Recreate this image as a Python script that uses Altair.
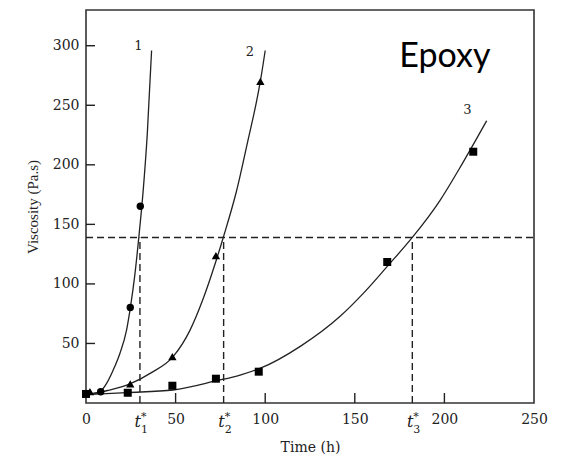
import altair as alt
import pandas as pd

# ---- data ----
# curve 1 (circles)
c1_curve_x = [0, 4, 7.8, 11.5, 15.2, 19, 22.6, 24.8, 27.2, 29.5, 32, 34.2, 36.6]
c1_curve_y = [7, 7.8, 9.5, 16.5, 27.7, 42, 61, 80.5, 107, 139.5, 180, 226, 296]
c1_pts_x = [8.2, 24.7, 30.3]
c1_pts_y = [9.5, 80.2, 165.2]

# curve 2 (triangles)
c2_curve_x = [0, 12, 24.5, 36.5, 48.6, 58.0, 65, 72.5, 76.6, 84, 90.6, 95, 97.5, 100]
c2_curve_y = [7, 10.5, 16, 25.5, 38.9, 61, 86, 119, 139, 178, 222, 252, 272, 296]
c2_pts_x = [2.2, 24.7, 48.2, 72.5, 97.3]
c2_pts_y = [9.5, 16.0, 39.0, 123.8, 270]

# curve 3 (squares)
c3_curve_x = [0, 22.7, 48.6, 72.9, 86, 97, 120, 141.5, 155, 168, 182.1, 197.5, 210, 223.6]
c3_curve_y = [7, 8.7, 10.9, 18.7, 23.5, 29, 48, 72.4, 92.5, 114.5, 139, 170, 201, 237]
c3_pts_x = [0, 23.3, 48.2, 72.5, 96.4, 168.1, 216.1]
c3_pts_y = [7.6, 8.6, 14.5, 20.4, 26.3, 118.4, 211]

# critical viscosity and times
crit_visc = 139
t_star = [30.1, 76.8, 182.1]
t_sub = ["1", "2", "3"]

curve_labels = ["1", "2", "3"]
curve_label_x = [29.3, 91.5, 212.8]
curve_label_y = [299.7, 295, 246]

x_ticks = [0, 50, 100, 150, 200, 250]
x_inner_ticks = [50, 100, 150, 200]
y_ticks = [50, 100, 150, 200, 250, 300]

W, H = 448, 393
INK = "#222222"

# ---- tables ----
curves = pd.concat([
    pd.DataFrame({"x": c1_curve_x, "y": c1_curve_y, "c": "1"}),
    pd.DataFrame({"x": c2_curve_x, "y": c2_curve_y, "c": "2"}),
    pd.DataFrame({"x": c3_curve_x, "y": c3_curve_y, "c": "3"}),
])
pts1 = pd.DataFrame({"x": c1_pts_x, "y": c1_pts_y})
pts2 = pd.DataFrame({"x": c2_pts_x, "y": c2_pts_y})
pts3 = pd.DataFrame({"x": c3_pts_x, "y": c3_pts_y})
tdf = pd.DataFrame({"t": t_star, "sub": t_sub, "y0": 0, "y1": crit_visc})
hdf = pd.DataFrame({"x0": [0], "x1": [250], "y": [crit_visc]})
lab = pd.DataFrame({"x": curve_label_x, "y": curve_label_y, "s": curve_labels})
xt = pd.DataFrame({"v": x_inner_ticks})
yt = pd.DataFrame({"v": y_ticks})

xs = alt.Scale(domain=[0, 250], nice=False, zero=False)
ys = alt.Scale(domain=[0, 330], nice=False, zero=False)

xaxis = alt.Axis(values=x_ticks, title="Time (h)", ticks=False, domain=False,
                 grid=False, labelFont="DejaVu Serif", labelFontSize=14,
                 labelColor=INK, labelPadding=9, titleFont="DejaVu Serif",
                 titleFontSize=14, titleFontWeight="normal", titleColor=INK,
                 titlePadding=14, labelFlush=False)
yaxis = alt.Axis(values=y_ticks, title="Viscosity (Pa.s)", ticks=False,
                 domain=False, grid=False, labelFont="DejaVu Serif",
                 labelFontSize=14, labelColor=INK, labelPadding=7,
                 titleFont="Liberation Serif", titleFontSize=15,
                 titleFontWeight="normal", titleColor=INK, titlePadding=12)

lines = alt.Chart(curves).mark_line(interpolate="monotone", color=INK,
                                    strokeWidth=1.3, clip=True).encode(
    x=alt.X("x:Q", scale=xs, axis=xaxis),
    y=alt.Y("y:Q", scale=ys, axis=yaxis),
    detail="c:N",
)

m1 = alt.Chart(pts1).mark_point(shape="circle", filled=True, color="black",
                                size=55, opacity=1).encode(
    x=alt.X("x:Q", scale=xs), y=alt.Y("y:Q", scale=ys))
m2 = alt.Chart(pts2).mark_point(shape="triangle-up", filled=True, color="black",
                                size=70, opacity=1).encode(
    x=alt.X("x:Q", scale=xs), y=alt.Y("y:Q", scale=ys))
m3 = alt.Chart(pts3).mark_point(shape="square", filled=True, color="black",
                                size=64, opacity=1).encode(
    x=alt.X("x:Q", scale=xs), y=alt.Y("y:Q", scale=ys))

hdash = alt.Chart(hdf).mark_rule(color=INK, strokeWidth=1.4,
                                 strokeDash=[7, 4]).encode(
    x=alt.X("x0:Q", scale=xs), x2="x1:Q", y=alt.Y("y:Q", scale=ys))
vdash = alt.Chart(tdf).mark_rule(color=INK, strokeWidth=1.4,
                                 strokeDash=[7, 4]).encode(
    x=alt.X("t:Q", scale=xs), y=alt.Y("y0:Q", scale=ys), y2="y1:Q")

xtick = alt.Chart(xt).mark_rule(color=INK, strokeWidth=1.4).encode(
    x=alt.X("v:Q", scale=xs), y=alt.value(H), y2=alt.value(H - 10))
ytick = alt.Chart(yt).mark_rule(color=INK, strokeWidth=1.4).encode(
    y=alt.Y("v:Q", scale=ys), x=alt.value(0), x2=alt.value(9))

t_main = alt.Chart(tdf).mark_text(text="t", font="DejaVu Serif", fontSize=16,
                                  fontStyle="italic", align="right",
                                  baseline="alphabetic", dx=1, color=INK).encode(
    x=alt.X("t:Q", scale=xs), y=alt.value(H + 24))
t_subm = alt.Chart(tdf).mark_text(font="DejaVu Serif", fontSize=11,
                                  align="left", baseline="alphabetic", dx=1,
                                  color=INK).encode(
    x=alt.X("t:Q", scale=xs), y=alt.value(H + 30), text="sub:N")
t_star_m = alt.Chart(tdf).mark_text(text="*", font="DejaVu Serif", fontSize=11,
                                    align="left", baseline="alphabetic", dx=1,
                                    color=INK).encode(
    x=alt.X("t:Q", scale=xs), y=alt.value(H + 17))

clabels = alt.Chart(lab).mark_text(font="DejaVu Serif", fontSize=13,
                                   color=INK).encode(
    x=alt.X("x:Q", scale=xs), y=alt.Y("y:Q", scale=ys), text="s:N")

epoxy = alt.Chart(pd.DataFrame({"x": [200.3], "y": [282], "s": ["Epoxy"]})).mark_text(
    font="Lato", fontSize=34, color="black", baseline="alphabetic",
    align="center").encode(
    x=alt.X("x:Q", scale=xs), y=alt.Y("y:Q", scale=ys), text="s:N")

chart = alt.layer(
    hdash, vdash, lines, m1, m2, m3, xtick, ytick,
    t_main, t_subm, t_star_m, clabels, epoxy
).properties(
    width=W, height=H,
    autosize=alt.AutoSizeParams(type="none"),
    padding={"left": 78, "top": 2, "right": 20, "bottom": 53},
    background="white",
).configure_view(stroke="#333333", strokeWidth=1.6)

chart.save("out.html", embed_options={"renderer": "svg", "actions": False})
